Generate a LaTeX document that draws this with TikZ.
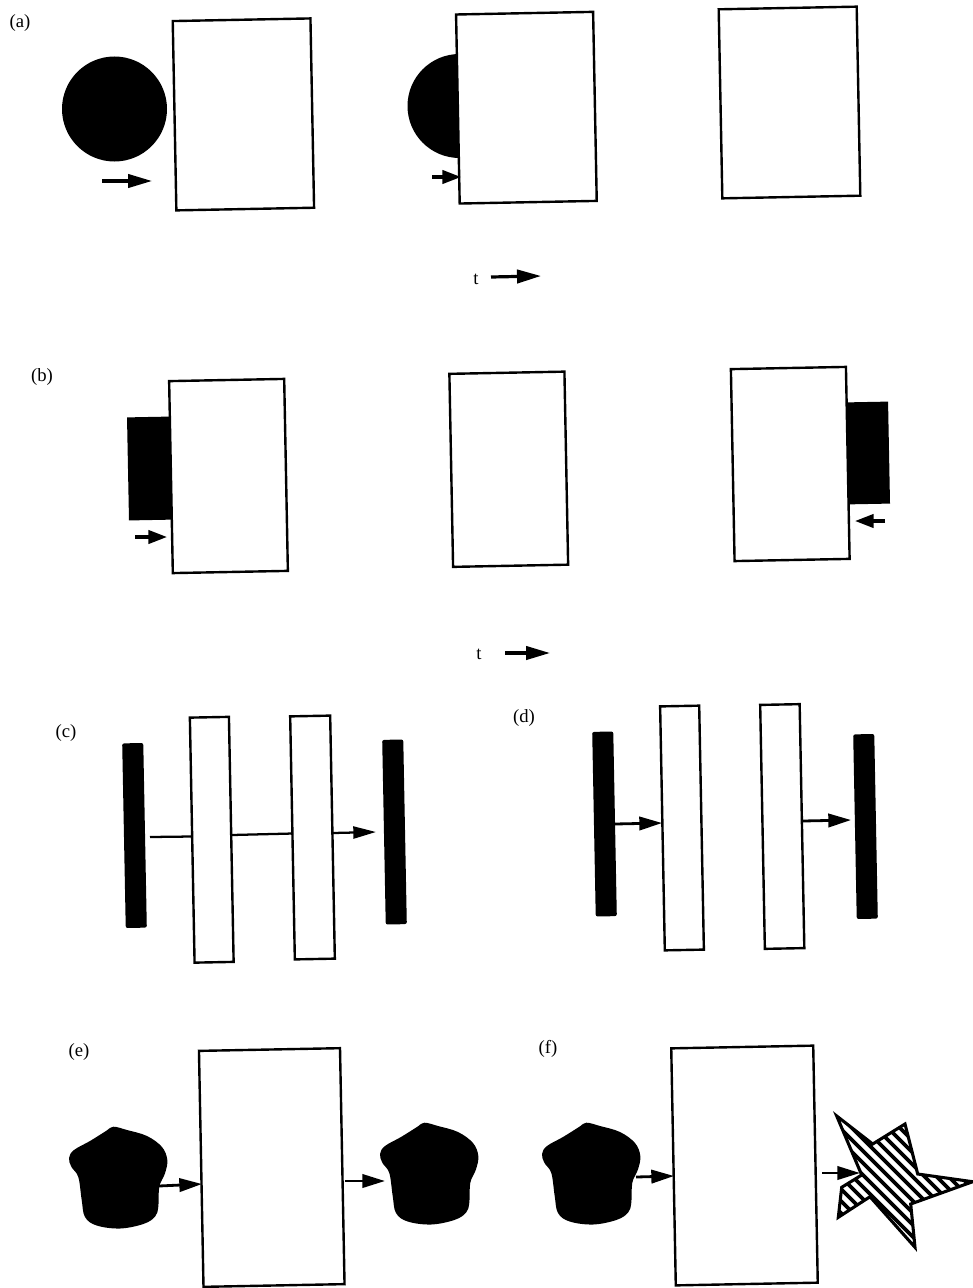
\documentclass[tikz,border=0pt]{standalone}
\usepackage{fontspec}
\setmainfont{Liberation Serif}
\usetikzlibrary{arrows.meta}
\newcommand\myblob{plot[smooth cycle, tension=0.6] coordinates {(113.3,1126.7) (127,1130) (147,1136) (162,1147) (167.3,1160) (165,1173.3) (159.3,1186.7) (158.3,1206.7) (155,1216.7) (143.3,1224) (120,1228.5) (96.7,1225.5) (85,1217) (81.7,1200) (78.3,1177) (71.5,1167) (69,1158) (74,1150) (90,1141) (106,1131)}}
\begin{document}
\begin{tikzpicture}[x=0.75pt,y=-0.75pt,
  box/.style={draw, line width=1.8pt, fill=white, rectangle, inner sep=0pt, outer sep=0pt, rotate=1.1},
  blk/.style={fill=black, rectangle, inner sep=0pt, outer sep=0pt, rotate=1.1},
  bar/.style={fill=black, rectangle, rounded corners=1.5pt, inner sep=0pt, outer sep=0pt, rotate=1.1, minimum width=15.8pt, minimum height=138.5pt},
  lab/.style={font=\fontsize{14}{16}\selectfont, inner sep=0pt},
  bigarr/.style={line width=2.4pt, -{Triangle[length=18pt,width=10pt]}},
  smarr/.style={line width=2.4pt, -{Triangle[length=14pt,width=10pt]}},
  midarr/.style={line width=2.1pt, -{Triangle[length=17pt,width=10pt]}},
  thinarr/.style={line width=1.7pt, -{Triangle[length=17pt,width=9pt]}},
  conn/.style={line width=1.7pt},
  starln/.style={line width=2.3pt, line join=miter},
]
\useasboundingbox (0,0) rectangle (973,1288);
\fill[white] (0,0) rectangle (973,1288);

% ---------------- (a)
\node[lab] (la) at (20,23) {(a)};
\fill[black] (114.5,109) circle [radius=52.5];
\node[box, minimum width=103.3pt, minimum height=142pt] (aB1) at (243.4,114.4) {};
\coordinate (a1s) at (102,181); \coordinate (a1e) at (152,181);
\draw[bigarr] (a1s) -- (a1e);

\fill[black] (459.5,106) circle [radius=52];
\node[box, minimum width=102.8pt, minimum height=141.8pt] (aB2) at (526.4,107.7) {};
\coordinate (a2s) at (432,177); \coordinate (a2e) at (461,177);
\draw[smarr] (a2s) -- (a2e);

\node[box, minimum width=103.5pt, minimum height=141.8pt] (aB3) at (789.5,102.5) {};

\node[lab] (ta) at (476,279) {t};
\coordinate (tas) at (491,277); \coordinate (tae) at (541,276);
\draw[bigarr] (tas) -- (tae);

% ---------------- (b)
\node[lab] (lb) at (42,377) {(b)};
\node[blk, minimum width=33pt, minimum height=77.3pt] (bK1) at (150,468.5) {};
\node[box, minimum width=86.3pt, minimum height=144pt] (bB1) at (228.5,476) {};
\coordinate (b1s) at (135,537); \coordinate (b1e) at (167,537);
\draw[smarr] (b1s) -- (b1e);

\node[box, minimum width=86.3pt, minimum height=144.8pt] (bB2) at (508.75,469.25) {};

\node[blk, minimum width=32.3pt, minimum height=76.5pt] (bK3) at (867.5,453) {};
\node[box, minimum width=86.3pt, minimum height=144pt] (bB3) at (790.25,464) {};
\coordinate (b3s) at (885,521); \coordinate (b3e) at (855,521);
\draw[smarr] (b3s) -- (b3e);

\node[lab] (tb) at (479,654) {t};
\coordinate (tbs) at (505,653); \coordinate (tbe) at (550,653);
\draw[bigarr] (tbs) -- (tbe);

% ---------------- (c)
\node[lab] (lc) at (66,733) {(c)};
\node[bar] (cK1) at (134.5,835.5) {};
\node[box, minimum width=29.3pt, minimum height=183.8pt] (cB1) at (211.75,839.75) {};
\node[box, minimum width=30pt, minimum height=182.3pt] (cB2) at (312.5,837.5) {};
\node[bar] (cK2) at (394.5,832) {};
\coordinate (c1s) at (150,837); \coordinate (c1e) at (192,836.5);
\coordinate (c2s) at (232,835); \coordinate (c2e) at (293,833.5);
\coordinate (c3s) at (333,833); \coordinate (c3e) at (376,832);
\draw[conn] (c1s) -- (c1e);
\draw[conn] (c2s) -- (c2e);
\draw[thinarr] (c3s) -- (c3e);

% ---------------- (d)
\node[lab] (ld) at (524,718) {(d)};
\node[bar] (dK1) at (604.5,824) {};
\node[box, minimum width=29.3pt, minimum height=183pt] (dB1) at (682,828) {};
\node[box, minimum width=29.6pt, minimum height=183pt] (dB2) at (782.25,826.5) {};
\node[bar] (dK2) at (865.5,826.5) {};
\coordinate (d1s) at (615,824); \coordinate (d1e) at (662,823);
\coordinate (d2s) at (803,821); \coordinate (d2e) at (851,820);
\draw[midarr] (d1s) -- (d1e);
\draw[midarr] (d2s) -- (d2e);

% ---------------- (e)
\node[lab] (le) at (79,1052) {(e)};
\fill[black] \myblob;
\node[box, minimum width=105.8pt, minimum height=177pt] (eB) at (271.75,1167.5) {};
\begin{scope}[shift={(311,-4)}]
  \fill[black] \myblob;
\end{scope}
\coordinate (e1s) at (159,1186); \coordinate (e1e) at (202,1184);
\coordinate (e2s) at (345,1181); \coordinate (e2e) at (385,1181);
\draw[midarr] (e1s) -- (e1e);
\draw[midarr] (e2s) -- (e2e);

% ---------------- (f)
\node[lab] (lf) at (548,1049) {(f)};
\begin{scope}[shift={(473,-4)}]
  \fill[black] \myblob;
\end{scope}
\node[box, minimum width=106.5pt, minimum height=177.8pt] (fB) at (744.5,1165.5) {};
\coordinate (f1s) at (636,1177); \coordinate (f1e) at (674,1176);
\coordinate (f2s) at (822,1173); \coordinate (f2e) at (860,1173);
\draw[midarr] (f1s) -- (f1e);
\draw[midarr] (f2s) -- (f2e);

% hatched star
\begin{scope}
  \clip (836.7,1116) -- (872.7,1144) -- (905,1124) -- (917.7,1174) -- (972.7,1181.7) -- (910.7,1204) -- (915,1247.3) -- (870,1196.7) -- (838.3,1217.3) -- (841.7,1187.3) -- (861.7,1175) -- cycle;
  \foreach \c in {-396,-384,...,-192} {
    \draw[line width=2.7pt] ({\c+1100},1100) -- ({\c+1270},1270);
  }
\end{scope}
\draw[starln] (836.7,1116) -- (872.7,1144) -- (905,1124) -- (917.7,1174) -- (972.7,1181.7) -- (910.7,1204) -- (915,1247.3) -- (870,1196.7) -- (838.3,1217.3) -- (841.7,1187.3) -- (861.7,1175) -- cycle;
\end{tikzpicture}
\end{document}
